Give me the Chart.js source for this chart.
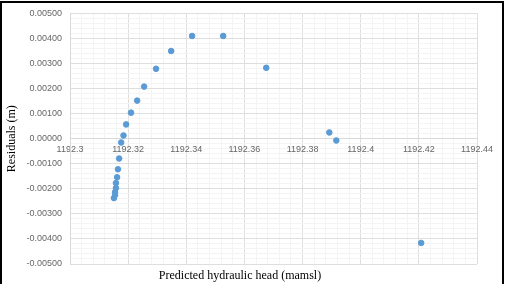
<!DOCTYPE html>
<html>
<head>
<meta charset="utf-8">
<script src="https://cdn.jsdelivr.net/npm/chart.js@4.4.0/dist/chart.umd.min.js"></script>
<style>
  body { margin: 0; background: #fff; }
  #wrap { position: relative; width: 507px; height: 284px; }
  #frame { position: absolute; left: 0; top: 1px; width: 500px; height: 290px; border: 2px solid #000; border-bottom: none; pointer-events: none; }
  #xtitle { position: absolute; left: 0; width: 480px; top: 268px; text-align: center; font: 12px "Liberation Serif", serif; color: #000; }
</style>
</head>
<body>
<div id="wrap">
  <canvas id="chart1" width="507" height="284"></canvas>
  <div id="frame"></div>
  <div id="xtitle">Predicted hydraulic head (mamsl)</div>
</div>
<script>
// predicted head (mamsl) and residual (m)
const predictedHead = [1192.3151, 1192.3155, 1192.3155, 1192.3158, 1192.3158, 1192.3162, 1192.3165, 1192.3169,
  1192.3176, 1192.3184, 1192.3193, 1192.3210, 1192.3231, 1192.3255, 1192.3296, 1192.3348,
  1192.3420, 1192.3527, 1192.3675, 1192.3892, 1192.3916, 1192.4208];
const residuals = [-0.00237, -0.00225, -0.00213, -0.00197, -0.00177, -0.00154, -0.00122, -0.00079,
  -0.00015, 0.00013, 0.00057, 0.00104, 0.00152, 0.00208, 0.00279, 0.00350,
  0.00410, 0.00410, 0.00283, 0.00025, -0.00007, -0.00416];
const xTicks = [1192.3, 1192.32, 1192.34, 1192.36, 1192.38, 1192.4, 1192.42, 1192.44];
const yTicks = [-0.005, -0.004, -0.003, -0.002, -0.001, 0, 0.001, 0.002, 0.003, 0.004, 0.005];

function isMajor(v, list) {
    return list.some(t => Math.abs(t - v) < 1e-7);
}

const points = predictedHead.map((x, i) => ({ x: x, y: residuals[i] }));

const tickFont = { family: "'Liberation Sans', Arial, sans-serif", size: 9 };

const ctx = document.getElementById('chart1').getContext('2d');
const chart = new Chart(ctx, {
    type: 'scatter',
    data: {
        datasets: [{
            data: points,
            backgroundColor: '#5b9bd5',
            borderColor: '#5b9bd5',
            pointRadius: 2.8,
            pointHoverRadius: 2.8
        }]
    },
    options: {
        responsive: false,
        animation: false,
        layout: { padding: { top: 12, right: 30, bottom: 20, left: 0 } },
        plugins: { legend: { display: false }, tooltip: { enabled: false } },
        scales: {
            x: {
                type: 'linear',
                position: { y: 0 },
                min: xTicks[0],
                max: xTicks[xTicks.length - 1],
                ticks: {
                    stepSize: 0.004,
                    autoSkip: false,
                    maxRotation: 0,
                    padding: 5,
                    color: '#666666',
                    font: tickFont,
                    callback: v => isMajor(v, xTicks) ? String(parseFloat(v.toFixed(2))) : ''
                },
                grid: {
                    drawTicks: false,
                    color: c => isMajor(c.tick.value, xTicks) ? '#dedede' : '#f4f4f4'
                },
                border: { color: '#d9d9d9' }
            },
            y: {
                min: yTicks[0],
                max: yTicks[yTicks.length - 1],
                afterFit: s => { s.width = 70; },
                ticks: {
                    stepSize: 0.0002,
                    autoSkip: false,
                    padding: 8,
                    color: '#666666',
                    font: tickFont,
                    callback: v => isMajor(v, yTicks) ? (Math.round(v * 1000) / 1000).toFixed(5) : ''
                },
                grid: {
                    drawTicks: false,
                    color: c => isMajor(c.tick.value, yTicks) ? '#dedede' : '#f4f4f4'
                },
                border: { color: '#d9d9d9' },
                title: {
                    display: true,
                    text: 'Residuals (m)',
                    color: '#000',
                    font: { family: "'Liberation Serif', serif", size: 12 },
                    padding: { top: 5, bottom: 0 }
                }
            }
        }
    }
});
</script>
</body>
</html>
